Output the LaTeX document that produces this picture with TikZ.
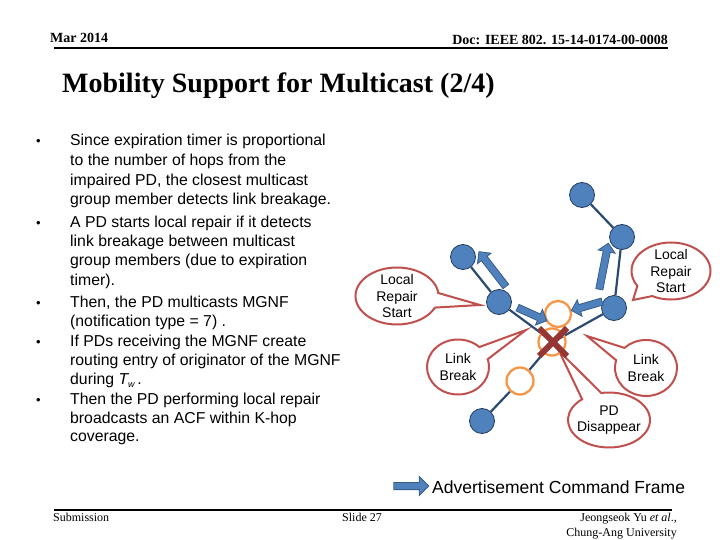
\documentclass[tikz,border=0pt]{standalone}
\usepackage{fontspec}
\setmainfont{Liberation Serif}
\setsansfont{Liberation Sans}
\usetikzlibrary{shapes.callouts,shapes.arrows,shapes.misc}
\pgfdeclarelayer{bg}
\pgfsetlayers{bg,main}
\definecolor{nblue}{HTML}{4F81BD}
\definecolor{nborder}{HTML}{1F3A60}
\definecolor{edgec}{HTML}{2B4A70}
\definecolor{orng}{HTML}{F79646}
\definecolor{xred}{HTML}{943634}
\definecolor{calred}{HTML}{C0504D}
\definecolor{acfdraw}{HTML}{385D8A}
\begin{document}
\begin{tikzpicture}[x=1pt,y=-1pt,
  hdr/.style={inner sep=0, font=\fontsize{14}{16}\selectfont\bfseries},
  ttl/.style={inner sep=0, font=\fontsize{28}{32}\selectfont\bfseries},
  ftr/.style={inner sep=0, font=\fontsize{12}{14}\selectfont},
  body/.style={inner sep=0, anchor=base west, font=\sffamily\fontsize{15.8}{18}\selectfont},
  bul/.style={inner sep=0, anchor=base west, font=\sffamily\fontsize{13}{14}\selectfont},
  rule/.style={line width=2pt, black},
  edge/.style={line width=2.2pt, edgec},
  bnode/.style={circle, fill=nblue, draw=nborder, line width=0.8pt, minimum size=25pt, inner sep=0},
  onode/.style={circle, draw=orng, line width=2.3pt, minimum size=26pt, inner sep=0},
  xmark/.style={cross out, draw=xred, line width=6pt, minimum size=22pt, inner sep=0},
  acf/.style={single arrow, fill=nblue, draw=acfdraw, line width=0.8pt, inner xsep=0, inner ysep=3.2pt,
    single arrow head extend=5pt, single arrow head indent=0pt, sloped, allow upside down, midway},
  callout/.style={ellipse callout, draw=calred, line width=2pt, fill=white, inner sep=0, callout pointer arc=30},
  ctext/.style={font=\sffamily\fontsize{14}{16.3}\selectfont, align=center, inner sep=0}
]
\useasboundingbox (0,0) rectangle (720,540);

% header
\node[hdr, anchor=base west] (date) at (50,43) {Mar 2014};
\node[hdr, anchor=base east] (doc) at (668,45) {Doc: IEEE 802. 15-14-0174-00-0008};
\coordinate (hl) at (54,48);
\coordinate (hr) at (668,48);
\draw[rule] (hl) -- (hr);

% title
\node[ttl, anchor=base west] (title) at (62,93) {Mobility Support for Multicast (2/4)};

% bullets
\node[bul] (b1) at (36,146) {•};
\node[bul] (b2) at (36,227) {•};
\node[bul] (b3) at (36,307) {•};
\node[bul] (b4) at (36,346) {•};
\node[bul] (b5) at (36,404) {•};

\node[body] (t1) at (70,146) {Since expiration timer is proportional};
\node[body] (t2) at (70,166) {to the number of hops from the};
\node[body] (t3) at (70,186) {impaired PD, the closest multicast};
\node[body] (t4) at (70,205) {group member detects link breakage.};
\node[body] (t5) at (70,227) {A PD starts local repair if it detects};
\node[body] (t6) at (70,246) {link breakage between multicast};
\node[body] (t7) at (70,265) {group members (due to expiration};
\node[body] (t8) at (70,285) {timer).};
\node[body] (t9) at (70,307) {Then, the PD multicasts MGNF};
\node[body] (t10) at (70,326) {(notification type = 7) .};
\node[body] (t11) at (70,346) {If PDs receiving the MGNF create};
\node[body] (t12) at (70,365) {routing entry of originator of the MGNF};
\node[body] (t13) at (70,384) {during {\itshape T}\raisebox{-3pt}{\fontsize{9}{9}\selectfont\itshape w}\,.};
\node[body] (t14) at (70,404) {Then the PD performing local repair};
\node[body] (t15) at (70,423) {broadcasts an ACF within K-hop};
\node[body] (t16) at (70,441) {coverage.};

% callouts
\node[callout, minimum width=83pt, minimum height=57pt, callout absolute pointer={(480,305)},
  label={[ctext]center:Local\\Repair\\Start}] (c1) at (397,296) {};
\node[callout, minimum width=79pt, minimum height=57pt, callout absolute pointer={(633,300)},
  label={[ctext]center:Local\\Repair\\Start}] (c2) at (671,271) {};
\node[callout, minimum width=62pt, minimum height=55pt, callout absolute pointer={(526,330)},
  label={[ctext]center:Link\\Break}] (c3) at (458,367) {};
\node[callout, minimum width=62pt, minimum height=56pt, callout absolute pointer={(587,336)},
  label={[ctext]center:Link\\Break}] (c4) at (646,368) {};
\node[callout, minimum width=82pt, minimum height=55pt, callout absolute pointer={(559,351)},
  label={[ctext]center:PD\\Disappear}] (c5) at (609,420) {};

% network nodes
\node[bnode] (n1) at (582,195) {};
\node[bnode] (n2) at (622,237) {};
\node[bnode] (n3) at (614,308) {};
\node[bnode] (n4) at (463,257) {};
\node[bnode] (n5) at (499,302) {};
\node[bnode] (n6) at (482,421) {};
\node[onode, fill=white] (o1) at (558,314) {};
\node[onode, minimum size=27pt] (o2) at (552,342) {};
\node[onode, fill=white, minimum size=27pt] (o3) at (520,381) {};
\node[xmark] (xm) at (553,342) {};

\begin{pgfonlayer}{bg}
\draw[edge] (n1) -- (n2);
\draw[edge] (n2) -- (n3);
\draw[edge] (n4) -- (n5);
\draw[edge] (n5) -- (xm.center);
\draw[edge] (n3) -- (xm.center);
\draw[edge] (xm.center) -- (o3);
\draw[edge] (o3) -- (n6);
\end{pgfonlayer}

% ACF arrows
\coordinate (a1s) at (507,288); \coordinate (a1e) at (480,253);
\coordinate (a2s) at (516,307); \coordinate (a2e) at (545,320);
\coordinate (a3s) at (604,301); \coordinate (a3e) at (573,310);
\coordinate (a4s) at (599,291); \coordinate (a4e) at (608,245);
\path (a1s) -- (a1e) node[acf, minimum height=44pt] (a1) {};
\path (a2s) -- (a2e) node[acf, minimum height=32pt] (a2) {};
\path (a3s) -- (a3e) node[acf, minimum height=32pt] (a3) {};
\path (a4s) -- (a4e) node[acf, minimum height=47pt] (a4) {};

% legend
\coordinate (ls) at (392,486); \coordinate (le) at (427,486);
\path (ls) -- (le) node[acf, minimum height=35pt, single arrow head extend=6pt] (la) {};
\node[inner sep=0, anchor=west, font=\sffamily\fontsize{17.5}{20}\selectfont] (leg) at (432,487) {Advertisement Command Frame};

% footer
\coordinate (fl) at (54,510);
\coordinate (fr) at (672,510);
\draw[rule] (fl) -- (fr);
\node[ftr, anchor=base west] (sub) at (53,521) {Submission};
\node[ftr, anchor=base] (slide) at (362,521) {Slide 27};
\node[ftr, anchor=base east] (auth) at (677,521) {Jeongseok Yu \textit{et al}.,};
\node[ftr, anchor=base east] (univ) at (677,536) {Chung-Ang University};
\end{tikzpicture}
\end{document}
